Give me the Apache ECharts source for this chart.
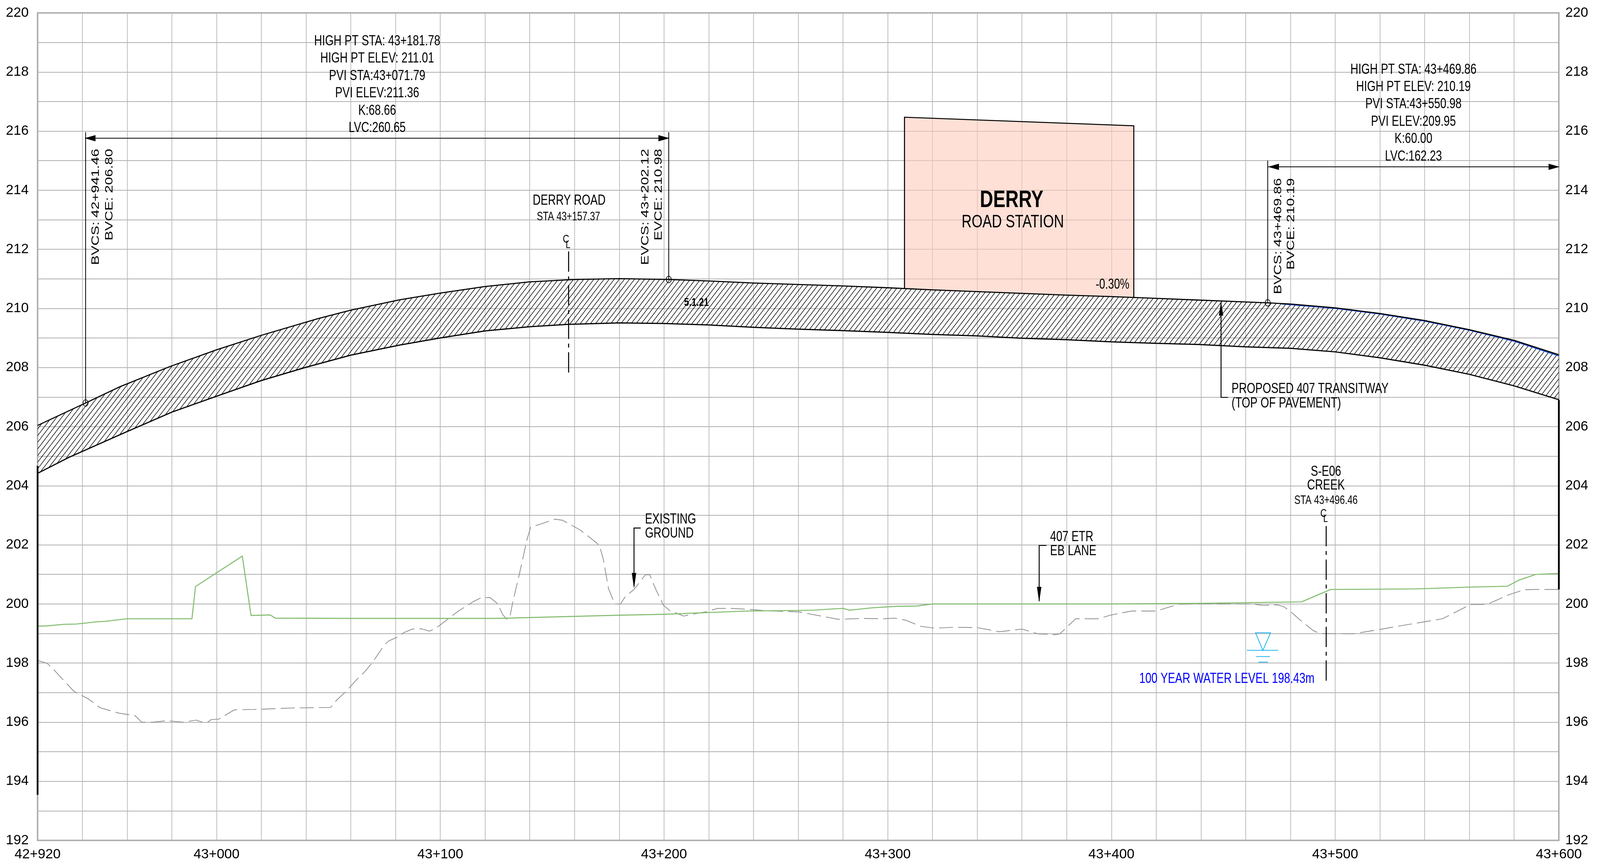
<!DOCTYPE html>
<html>
<head>
<meta charset="utf-8">
<style>html,body{margin:0;padding:0;background:#fff;overflow:hidden}#c{width:100vw;height:100vh}</style>
<script src="https://cdn.jsdelivr.net/npm/echarts@6/dist/echarts.min.js"></script>
</head>
<body>
<div id="c"></div>
<script>
// ---------- tick labels ----------
const xTickStations = [42920, 43000, 43100, 43200, 43300, 43400, 43500, 43600];
const yTickElevations = [192,194,196,198,200,202,204,206,208,210,212,214,216,218,220];

// ---------- profile data (station, elevation) ----------
const topStations = [42920,42941.46,42956.8,42979,43000,43020,43045.6,43060,43081.8,43100,43120,43140,43160,43180,43202.12,43220,43240,43260,43280,43300,43320,43340,43360,43380,43400,43420,43440,43469.86,43480,43500,43520,43540,43560,43580,43600];
const topElevations = [206.04,206.80,207.35,208.03,208.60,209.09,209.66,209.94,210.29,210.52,210.74,210.90,210.98,211.01,210.98,210.93,210.86,210.81,210.76,210.70,210.63,210.57,210.51,210.45,210.40,210.34,210.28,210.19,210.15,210.02,209.83,209.59,209.28,208.92,208.43];

const blueStations = [43476,43500,43520,43540,43560,43580,43600];
const blueElevations = [210.15,210.00,209.81,209.57,209.26,208.89,208.39];

const bottomStations = [42920,42934,42959,42980,43000,43020,43040,43060,43081.8,43100,43120,43140,43157,43180,43200,43220,43240,43260,43280,43300,43320,43340,43360,43380,43400,43420,43439,43460,43480,43500,43520,43540,43560,43580,43600];
const bottomElevations = [204.42,204.96,205.80,206.49,207.03,207.56,208.01,208.42,208.76,209.00,209.24,209.38,209.46,209.51,209.49,209.44,209.36,209.30,209.25,209.19,209.12,209.07,208.99,208.94,208.87,208.82,208.78,208.70,208.65,208.53,208.33,208.08,207.77,207.38,206.91];

const etrStations = [42920,42924.3,42931.7,42937.4,42947,42950,42960,42971.6,42989,42990.6,43011.5,43011.8,43015.4,43024,43026.2,43060,43081.8,43124,43130.8,43140,43160,43180,43200,43220,43237,43260,43267,43275,43280,43283,43293,43304,43313,43320,43344,43400,43420,43440,43485,43498,43520,43536.6,43560,43577,43582,43589.6,43599,43600];
const etrElevations = [199.25,199.26,199.31,199.32,199.40,199.41,199.50,199.50,199.50,200.59,201.62,201.60,199.61,199.63,199.52,199.51,199.51,199.51,199.52,199.54,199.58,199.62,199.65,199.71,199.76,199.78,199.79,199.83,199.85,199.79,199.87,199.92,199.93,200.0,200.0,200.0,200.01,200.02,200.07,200.49,200.50,200.51,200.57,200.60,200.80,201.0,201.03,201.03];

const groundStations = [42920,42924.3,42926.6,42930.6,42936.3,42942.6,42948,42956,42963.6,42966.5,42971.6,42977.7,42985,42990.8,42993.7,42996,42997.7,43000.9,43008,43017,43034,43051,43054,43058,43062,43066,43069.5,43075,43077,43082,43083.5,43087.5,43091.5,43095.2,43098.3,43104.6,43108.5,43114.8,43118.2,43122.2,43125.6,43127.9,43129.6,43131,43132.5,43135.3,43138.7,43140.4,43144.4,43151.3,43154.7,43162.6,43169.5,43171.2,43172.9,43175.2,43178,43180.6,43182.6,43186.6,43191.7,43193.6,43196.2,43199.7,43202.5,43208.8,43213.9,43218.5,43224,43230,43238,43243.9,43253,43260.4,43266,43278,43289,43298,43303,43308,43315,43321,43329,43340,43350,43360,43367,43374.7,43377,43384,43394,43400,43409,43420,43430,43439,43462.6,43468,43474,43477,43480,43484,43490,43493,43508,43519.5,43526,43548,43560.5,43568,43577.6,43584.4,43590,43600];
const groundElevations = [198.09,197.99,197.83,197.50,197.04,196.79,196.49,196.31,196.22,196.0,196.0,196.05,196.0,196.07,196.0,196.0,196.09,196.10,196.42,196.43,196.48,196.50,196.77,197.05,197.39,197.69,198.0,198.61,198.75,198.92,199.02,199.15,199.16,199.08,199.19,199.56,199.78,200.08,200.21,200.22,200.01,199.64,199.49,199.52,200.10,200.99,202.16,202.60,202.69,202.87,202.83,202.50,202.09,201.97,201.50,200.52,200.0,200.0,200.24,200.49,200.99,200.99,200.52,199.96,199.78,199.59,199.67,199.73,199.85,199.85,199.82,199.78,199.75,199.73,199.65,199.48,199.51,199.50,199.52,199.45,199.24,199.18,199.21,199.20,199.06,199.15,198.99,198.96,198.99,199.50,199.50,199.63,199.76,199.76,199.99,200.0,200.0,199.95,199.97,199.91,199.75,199.48,199.11,199.0,198.99,199.13,199.22,199.50,199.98,199.99,200.31,200.48,200.49,200.49];

const stationOutlineStations = [43307.5,43307.5,43410,43410];
const stationOutlineElevations = [210.68,216.47,216.18,210.36];

const waterLevelStation = 43467.7;
const waterLevelElevation = 198.43;

// ---------- annotations ----------
const leftCurveNote = "HIGH PT STA: 43+181.78\nHIGH PT ELEV: 211.01\nPVI STA:43+071.79\nPVI ELEV:211.36\nK:68.66\nLVC:260.65";
const rightCurveNote = "HIGH PT STA: 43+469.86\nHIGH PT ELEV: 210.19\nPVI STA:43+550.98\nPVI ELEV:209.95\nK:60.00\nLVC:162.23";

const textNotes = [
  {t:leftCurveNote, s:43071.8, v:217.57, size:37, lh:44.4},
  {t:rightCurveNote, s:43535, v:216.61, size:37, lh:44.4},
  {t:"BVCS: 42+941.46", s:42946.07, v:215.40, size:37, rot:1, align:'right'},
  {t:"BVCE: 206.80", s:42952.2, v:215.40, size:37, rot:1, align:'right'},
  {t:"EVCS: 43+202.12", s:43191.7, v:215.40, size:37, rot:1, align:'right'},
  {t:"EVCE: 210.98", s:43197.6, v:215.40, size:37, rot:1, align:'right'},
  {t:"BVCS: 43+469.86", s:43474.6, v:214.41, size:37, rot:1, align:'right'},
  {t:"BVCE: 210.19", s:43480.4, v:214.41, size:37, rot:1, align:'right'},
  {t:"DERRY ROAD", s:43157.6, v:213.65, size:37},
  {t:"STA 43+157.37", s:43157.3, v:213.09, size:31},
  {t:"C", s:43156.2, v:212.33, size:30},
  {t:"L", s:43157.1, v:212.15, size:28},
  {t:"DERRY", s:43355.4, v:213.65, size:62, weight:'bold'},
  {t:"ROAD STATION", s:43355.9, v:212.92, size:47},
  {t:"-0.30%", s:43400.5, v:210.80, size:36},
  {t:"5.1.21", s:43214.5, v:210.19, size:30, weight:'bold'},
  {t:"PROPOSED 407 TRANSITWAY\n(TOP OF PAVEMENT)", s:43453.7, v:207.03, size:37, lh:36.5, align:'left'},
  {t:"EXISTING\nGROUND", s:43191.5, v:202.62, size:37, lh:36, align:'left'},
  {t:"407 ETR\nEB LANE", s:43372.6, v:202.02, size:37, lh:36, align:'left'},
  {t:"S-E06", s:43495.9, v:204.47, size:37},
  {t:"CREEK", s:43495.9, v:204.01, size:37},
  {t:"STA 43+496.46", s:43495.9, v:203.50, size:31},
  {t:"C", s:43494.8, v:203.06, size:30},
  {t:"L", s:43495.7, v:202.87, size:28},
  {t:"100 YEAR WATER LEVEL 198.43m", s:43451.6, v:197.46, size:37, color:'#0000ff'}
];

const leaders = [
  {pts:[[42941.46,206.80],[42941.46,215.96]]},
  {pts:[[43202.12,210.98],[43202.12,215.96]]},
  {pts:[[43469.86,210.19],[43469.86,215.0]]},
  {pts:[[42941.46,215.76],[43202.12,215.76]]},
  {pts:[[43469.86,214.79],[43600,214.79]]},
  {pts:[[43449,210.22],[43449,206.99],[43452.1,206.99]], w:2.4},
  {pts:[[43186.6,200.6],[43186.6,202.57],[43189.6,202.57]], w:2.4},
  {pts:[[43367.7,200.1],[43367.7,201.98],[43371,201.98]], w:2.4},
  {pts:[[42920,204.67],[42920,193.54]], w:4.5},
  {pts:[[43600,206.9],[43600,200.49]], w:4.5},
  {pts:[[43157.37,211.93],[43157.37,207.72]], w:2.6, dash:[52,12,10,12]},
  {pts:[[43496,202.64],[43496,197.32]], w:2.6, dash:[52,12,10,12]}
];

const arrows = [
  {s:42941, v:215.76, dx:1, dy:0, len:37, half:8},
  {s:43202.4, v:215.76, dx:-1, dy:0, len:37, half:8},
  {s:43470, v:214.79, dx:1, dy:0, len:37, half:8},
  {s:43600.3, v:214.79, dx:-1, dy:0, len:37, half:8},
  {s:43449, v:210.22, dx:0, dy:1, len:35, half:7.5},
  {s:43186.6, v:200.52, dx:0, dy:-1, len:40, half:7.5},
  {s:43367.7, v:200.05, dx:0, dy:-1, len:40, half:7.5}
];

const circleMarks = [[42941.46,206.80],[43202.12,210.98],[43469.86,210.19]];

// ---------- styling constants ----------
const FONT = '"Liberation Sans", Arial, sans-serif';
const GRID_COLOR = '#b0b0b0';
// the reference is 5406 wide; horizontal pixel sizes follow the window that is really available
const K = window.innerWidth / 5406;
const NARROW = K < 0.9;
const AXIS_FONT = NARROW ? '"Liberation Sans Narrow", "Liberation Sans", Arial, sans-serif' : FONT;
const AXIS_SIZE = NARROW ? 35 : 36;

function zip(a, b){ return a.map((x,i)=>[x,b[i]]); }
function stationLabel(v){ return Math.floor(v/1000)+'+'+String(v%1000).padStart(3,'0'); }

function hatchCanvas(){
  const h = 17, w = Math.round(17*K), c = document.createElement('canvas');
  c.width = w; c.height = h;
  const g = c.getContext('2d');
  g.strokeStyle = '#000'; g.lineWidth = 1.4;
  [[-w,h,0,0],[0,h,w,0],[w,h,2*w,0]].forEach(l=>{
    g.beginPath(); g.moveTo(l[0],l[1]); g.lineTo(l[2],l[3]); g.stroke();
  });
  return c;
}
const hatch = hatchCanvas();

function lineSeries(name, st, el, color, width, dash, z){
  return {
    name, type:'line', data:zip(st,el), showSymbol:false, symbol:'none', smooth:false, z,
    clip:false, silent:true,
    lineStyle:{color, width, type:dash||'solid', cap:'butt', join:'round'}
  };
}

const series = [
  {
    name:'Derry Road Station', type:'custom', z:2, silent:true, clip:false, data:[[43360,213]],
    renderItem(p, api){
      const pts = zip(stationOutlineStations, stationOutlineElevations).map(q=>api.coord(q));
      return {type:'group', children:[
        {type:'polygon', shape:{points:pts}, style:{fill:'rgba(253,203,187,0.6)', stroke:null}},
        {type:'polyline', shape:{points:pts}, style:{fill:null, stroke:'#000', lineWidth:2.6}}
      ]};
    }
  },
  {
    name:'Transitway section', type:'custom', z:3, silent:true, clip:false, data:[[43200,210]],
    renderItem(p, api){
      const pts = zip(topStations, topElevations).concat(zip(bottomStations, bottomElevations).reverse()).map(q=>api.coord(q));
      return {type:'polygon', shape:{points:pts}, style:{fill:{image:hatch, repeat:'repeat'}, stroke:null}};
    }
  },
  lineSeries('Existing ground', groundStations, groundElevations, '#8c8c8c', 1.9, [36,13], 4),
  lineSeries('407 ETR EB lane', etrStations, etrElevations, '#82bc6e', 2.6, null, 5),
  lineSeries('Design alignment', blueStations, blueElevations, '#0d45d8', 2.4, null, 6),
  lineSeries('Top of pavement', topStations, topElevations, '#000000', 2.8, null, 7),
  lineSeries('Bottom of section', bottomStations, bottomElevations, '#000000', 3, null, 7),
  {
    name:'Leaders', type:'custom', z:8, silent:true, clip:false, data:leaders.map(l=>l.pts[0]),
    renderItem(p, api){
      const l = leaders[p.dataIndex];
      return {type:'polyline', shape:{points:l.pts.map(q=>api.coord(q))},
        style:{fill:null, stroke:'#000', lineWidth:l.w||2, lineDash:l.dash||null}};
    }
  },
  {
    name:'Arrows', type:'custom', z:9, silent:true, clip:false, data:arrows.map(a=>[a.s,a.v]),
    renderItem(p, api){
      const a = arrows[p.dataIndex], c = api.coord([a.s,a.v]);
      const bx = c[0]+a.dx*a.len*K, by = c[1]+a.dy*a.len;
      const pts = [c,[bx-a.dy*a.half*K,by+a.dx*a.half],[bx+a.dy*a.half*K,by-a.dx*a.half]];
      return {type:'polygon', shape:{points:pts}, style:{fill:'#000', stroke:null}};
    }
  },
  {
    name:'Curve points', type:'custom', z:10, silent:true, clip:false, data:circleMarks,
    renderItem(p, api){
      const c = api.coord([api.value(0),api.value(1)]);
      return {type:'ellipse', shape:{cx:c[0], cy:c[1], rx:8.5*K, ry:8.5}, style:{fill:null, stroke:'#000', lineWidth:1.7}};
    }
  },
  {
    name:'100 year water level', type:'custom', z:10, silent:true, clip:false, data:[[waterLevelStation,waterLevelElevation]],
    renderItem(p, api){
      const c = api.coord([api.value(0),api.value(1)]);
      const col = '#1eb4f0', st = {fill:null, stroke:col, lineWidth:2};
      const tri = [[c[0]-25*K,c[1]-45],[c[0]+26*K,c[1]-45],c];
      const seg = (a,b,dy)=>({type:'line', shape:{x1:c[0]+a*K,y1:c[1]+dy,x2:c[0]+b*K,y2:c[1]+dy}, style:st});
      return {type:'group', children:[
        {type:'polygon', shape:{points:tri}, style:st},
        seg(-54,52,0), seg(-23,24,16), seg(-15,17,30)
      ]};
    }
  },
  {
    name:'Notes', type:'custom', z:11, silent:true, clip:false, data:textNotes.map(n=>[n.s,n.v]),
    renderItem(p, api){
      const n = textNotes[p.dataIndex], c = api.coord([n.s,n.v]);
      return {type:'text', x:c[0], y:c[1], rotation:n.rot?Math.PI/2:0,
        scaleX:n.rot?1:K, scaleY:n.rot?K:1,
        style:{text:n.t, fontFamily:FONT, fontSize:n.size, fontWeight:n.weight||'normal',
          fill:n.color||'#000', align:n.align||'center', verticalAlign:'middle',
          lineHeight:n.lh||undefined}};
    }
  }
];

function yAxis(position, margin){
  return {
    type:'value', position, min:192, max:220, interval:1,
    axisLine:{show:false}, axisTick:{show:false},
    splitLine:{show:position==='left', lineStyle:{color:GRID_COLOR, width:1.8}},
    axisLabel:{customValues:yTickElevations, margin, fontFamily:AXIS_FONT, fontSize:AXIS_SIZE, color:'#000'}
  };
}

const chart = echarts.init(document.getElementById('c'), null, {renderer:'canvas'});
chart.setOption({
  animation:false,
  backgroundColor:'#fff',
  grid:{left:127*K, right:139*K, top:33, bottom:63, show:true, borderColor:'#a0a0a0', borderWidth:3.5,
        backgroundColor:'transparent', containLabel:false, outerBoundsMode:'none'},
  xAxis:{
    type:'value', min:42920, max:43600, interval:20,
    axisLine:{show:false}, axisTick:{show:false},
    splitLine:{show:true, lineStyle:{color:GRID_COLOR, width:1.6}},
    axisLabel:{customValues:xTickStations, margin:19, formatter:stationLabel, fontFamily:AXIS_FONT, fontSize:AXIS_SIZE, color:'#000'}
  },
  yAxis:[yAxis('left',30*K), yAxis('right',22*K)],
  tooltip:{show:false},
  legend:{show:false},
  series
});
</script>
</body>
</html>
